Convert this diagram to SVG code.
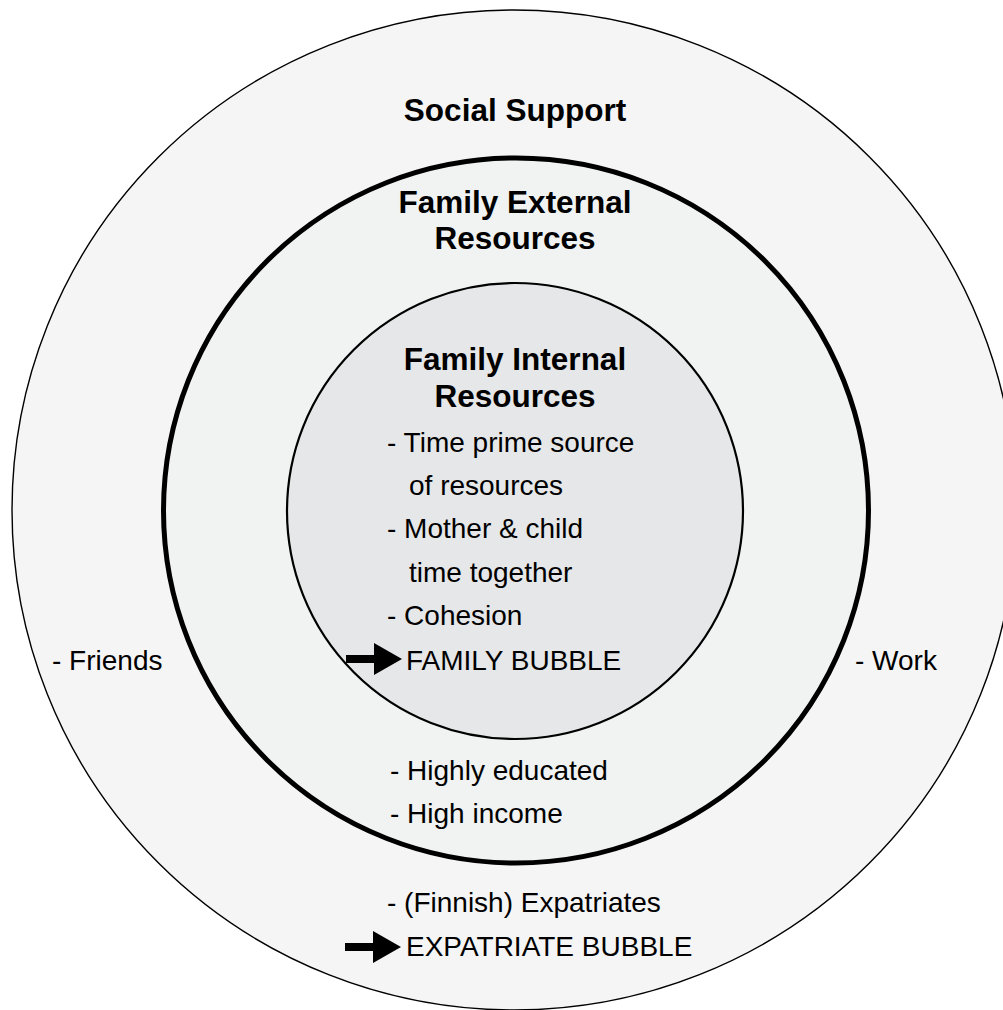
<svg xmlns="http://www.w3.org/2000/svg" xmlns:xlink="http://www.w3.org/1999/xlink" width="1003" height="1010" viewBox="0 0 1003 1010">
  <style>
    .ring { stroke: #000; }
    .title { font-family: "Liberation Sans", Arial, sans-serif; font-weight: bold; font-size: 31.5px; fill: #000; text-anchor: middle; }
    .item { font-family: "Liberation Sans", Arial, sans-serif; font-size: 28px; fill: #000; }
  </style>
  <defs>
    <!-- block arrow pointing right; tip at (0,0) -->
    <path id="blockArrow" d="M-56,-4 H-28 V-16 L0,0 L-28,16 V4 H-56 Z" fill="#000"/>
  </defs>

  <rect width="1003" height="1010" fill="#fff"/>

  <!-- outer ring: social support -->
  <g id="social-support">
    <ellipse class="ring" cx="514" cy="510" rx="502" ry="500" fill="#f5f5f5" stroke-width="1.4"/>
    <text class="title" x="515" y="121">Social Support</text>
    <text class="item" x="52" y="670">- Friends</text>
    <text class="item" x="855" y="670">- Work</text>
    <text class="item" x="387" y="912">- (Finnish) Expatriates</text>
    <text class="item" x="406" y="956">EXPATRIATE BUBBLE</text>
  </g>

  <!-- middle ring: family external resources -->
  <g id="family-external">
    <circle class="ring" cx="516" cy="510.5" r="352.5" fill="#f1f2f2" stroke-width="5"/>
    <text class="title" x="515" y="213">Family External</text>
    <text class="title" x="515" y="249">Resources</text>
    <text class="item" x="390" y="780">- Highly educated</text>
    <text class="item" x="390" y="823">- High income</text>
  </g>

  <!-- inner circle: family internal resources -->
  <g id="family-internal">
    <circle class="ring" cx="515" cy="511" r="228" fill="#e6e7e8" stroke-width="2.2"/>
    <text class="title" x="515" y="370">Family Internal</text>
    <text class="title" x="515" y="407">Resources</text>
    <text class="item" x="387" y="452">- Time prime source</text>
    <text class="item" x="409" y="495">of resources</text>
    <text class="item" x="387" y="538">- Mother &amp; child</text>
    <text class="item" x="409" y="582">time together</text>
    <text class="item" x="387" y="625">- Cohesion</text>
    <text class="item" x="406" y="670">FAMILY BUBBLE</text>
  </g>

  <!-- pointer arrows -->
  <g id="connectors">
    <use xlink:href="#blockArrow" x="402" y="659"/>
    <use xlink:href="#blockArrow" x="401" y="947"/>
  </g>
</svg>
